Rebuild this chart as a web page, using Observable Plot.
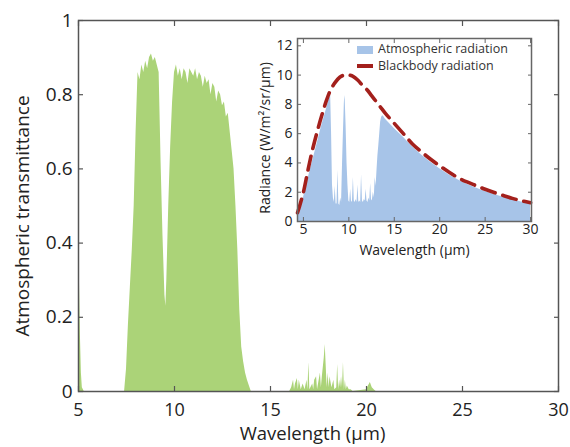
<!DOCTYPE html>
<html>
<head>
<meta charset="utf-8">
<script src="https://cdn.jsdelivr.net/npm/d3@7"></script>
<script src="https://cdn.jsdelivr.net/npm/@observablehq/plot@0.6"></script>
<style>
  html, body { margin: 0; padding: 0; background: #fff; }
  #wrap { position: relative; width: 570px; height: 447px; font-family: "Open Sans", sans-serif; }
  #wrap > .layer { position: absolute; }
  .leg { position: absolute; font-size: 12.5px; color: #333; line-height: 1; white-space: nowrap; }
</style>
</head>
<body>
<div id="wrap"></div>
<script>
// ---------- Main chart: atmospheric transmittance ----------
const transWl = [
  5.0, 5.05, 5.1, 5.15, 5.2, 5.3, 7.4,
  7.5, 7.6, 7.7, 7.8, 7.9, 8.0, 8.1, 8.2, 8.3, 8.4, 8.5, 8.6, 8.7, 8.8, 8.9, 9.0, 9.1, 9.2,
  9.3, 9.4, 9.5, 9.55, 9.6, 9.7, 9.8, 9.9, 10.0,
  10.1, 10.2, 10.3, 10.4, 10.5, 10.6, 10.7, 10.8, 10.9, 11.0, 11.1, 11.2, 11.3, 11.4, 11.5,
  11.6, 11.7, 11.8, 11.9, 12.0, 12.1, 12.2, 12.3, 12.4, 12.5, 12.6, 12.7, 12.8, 12.9, 13.0,
  13.1, 13.2, 13.3, 13.4, 13.5, 13.6, 13.7, 13.8, 13.9, 14.0, 16.0,
  16.1, 16.2, 16.25, 16.3, 16.4, 16.45, 16.5, 16.6, 16.7, 16.8, 16.9, 16.95, 17.0, 17.05,
  17.2, 17.25, 17.3, 17.4, 17.45, 17.6, 17.65, 17.7, 17.8, 17.85, 17.9, 17.95, 18.0, 18.05,
  18.1, 18.2, 18.3, 18.35, 18.45, 18.5, 18.55, 18.6, 18.65, 18.7, 18.75, 18.8, 18.85, 18.9,
  18.95, 19.0, 19.1, 19.2, 19.3, 20.0, 20.1, 20.2, 20.3, 20.4, 20.5, 30.0
];
const transVal = [
  0.42, 0.30, 0.15, 0.05, 0.01, 0, 0,
  0.06, 0.18, 0.28, 0.38, 0.50, 0.70, 0.86, 0.84, 0.88, 0.86, 0.89, 0.87, 0.90, 0.91, 0.89, 0.90, 0.88, 0.86,
  0.62, 0.42, 0.26, 0.23, 0.30, 0.50, 0.66, 0.78, 0.86,
  0.88, 0.85, 0.87, 0.84, 0.87, 0.86, 0.83, 0.87, 0.86, 0.85, 0.87, 0.84, 0.86, 0.85, 0.82,
  0.85, 0.83, 0.84, 0.80, 0.83, 0.82, 0.78, 0.81, 0.80, 0.77, 0.78, 0.74, 0.75, 0.70, 0.65,
  0.60, 0.50, 0.38, 0.22, 0.12, 0.08, 0.05, 0.03, 0.015, 0, 0,
  0.01, 0.03, 0.005, 0.02, 0.035, 0.005, 0.03, 0.005, 0.02, 0.005, 0.03, 0.005, 0.078, 0.005,
  0.02, 0.005, 0.03, 0.04, 0.005, 0.05, 0.01, 0.04, 0.09, 0.127, 0.07, 0.01, 0.05, 0.01,
  0.04, 0.01, 0.03, 0.005, 0.01, 0.073, 0.005, 0.03, 0.01, 0.04, 0.01, 0.078, 0.005, 0.03,
  0.005, 0.015, 0.005, 0.005, 0, 0.005, 0.015, 0.024, 0.01, 0.005, 0, 0
];
const mainXTicks = [5, 10, 15, 20, 25, 30];
const mainYTicks = [0, 0.2, 0.4, 0.6, 0.8, 1];
const mainYTickLabels = ["0", "0.2", "0.4", "0.6", "0.8", "1"];
const mainXLabel = "Wavelength (\u00b5m)";
const mainYLabel = "Atmospheric transmittance";

// ---------- Inset: radiance ----------
const bbWl = [4.35, 4.6, 5.0, 5.5, 6.0, 6.5, 7.0, 7.5, 8.0, 8.5, 9.0, 9.5, 10.0, 10.5, 11.0, 11.5, 12.0, 12.5, 13.0, 13.5, 14, 15, 16, 17, 18, 19, 20, 21, 22, 23, 24, 25, 26, 27, 28, 29, 30];
const bbRad = [0.6, 1.1, 2.0, 3.5, 4.9, 6.1, 7.2, 8.2, 9.0, 9.5, 9.85, 10.0, 10.0, 9.9, 9.65, 9.3, 9.0, 8.6, 8.2, 7.8, 7.4, 6.7, 6.0, 5.3, 4.75, 4.25, 3.8, 3.38, 3.0, 2.7, 2.45, 2.2, 1.98, 1.78, 1.58, 1.42, 1.28];
const atmWl = [
  4.35, 4.6, 5.0, 5.5, 6.0, 6.5, 7.0, 7.5, 7.8, 8.0,
  8.1, 8.2, 8.3, 8.4, 8.5, 8.6, 8.7, 8.8, 8.9, 9.0, 9.1, 9.2, 9.3, 9.4, 9.5, 9.55, 9.6, 9.7, 9.8, 9.9, 10.0,
  10.1, 10.2, 10.3, 10.4, 10.5, 10.6, 10.7, 10.8, 10.9, 11.0, 11.1, 11.2, 11.3, 11.4, 11.5,
  11.6, 11.7, 11.8, 11.9, 12.0, 12.1, 12.2, 12.3, 12.4, 12.5, 12.6, 12.7, 12.8, 12.9, 13.0,
  13.1, 13.2, 13.3, 13.4, 13.5, 13.6, 13.7, 13.8, 14, 15, 16, 17, 18, 19, 20, 21, 22, 23, 24, 25, 26, 27, 28, 29, 30
];
const atmRad = [
  0.2, 0.7, 1.6, 2.9, 4.1, 5.3, 6.5, 7.6, 8.3, 8.6,
  6.0, 2.5, 1.6, 1.3, 2.4, 1.2, 1.2, 3.5, 1.2, 1.1, 1.6, 1.3, 3.8, 6.0, 8.0, 8.6, 8.3, 6.5, 4.0, 2.5, 1.4,
  1.3, 2.2, 1.3, 1.4, 3.0, 1.4, 1.3, 1.5, 1.3, 2.5, 1.3, 1.4, 1.3, 3.2, 1.4,
  1.3, 1.5, 1.4, 2.2, 1.4, 1.3, 1.6, 1.4, 2.6, 1.4, 1.5, 2.0, 1.6, 3.0, 2.4,
  3.5, 4.5, 5.2, 6.0, 6.8, 7.1, 7.2, 7.2, 7.0, 6.35, 5.75, 5.1, 4.55, 4.05, 3.6, 3.2, 2.85, 2.55, 2.28, 2.05, 1.85, 1.65, 1.48, 1.33, 1.2
];
const insetXTicks = [5, 10, 15, 20, 25, 30];
const insetYTicks = [0, 2, 4, 6, 8, 10, 12];
const insetXLabel = "Wavelength (\u00b5m)";
const insetYLabel = "Radiance (W/m\u00b2/sr/\u00b5m)";
const legendLabels = ["Atmospheric radiation", "Blackbody radiation"];

const GREEN = "#abd378";
const BLUE = "#a7c4e8";
const RED = "#a3201c";

const transData = transWl.map((wl, i) => ({wl, t: transVal[i]}));
const bbData = bbWl.map((wl, i) => ({wl, r: bbRad[i]}));
const atmData = atmWl.map((wl, i) => ({wl, r: atmRad[i]}));

const wrap = document.getElementById("wrap");

const main = Plot.plot({
  width: 570, height: 447,
  marginLeft: 78, marginRight: 12, marginTop: 20, marginBottom: 56,
  style: {fontFamily: "Open Sans", fontSize: "19px", color: "#222", background: "white"},
  x: {domain: [5, 30], label: null},
  y: {domain: [0, 1], label: null},
  marks: [
    Plot.areaY(transData, {x: "wl", y: "t", fill: GREEN, curve: "linear"}),
    Plot.frame({stroke: "#555", strokeWidth: 1.5}),
    Plot.axisX({ticks: mainXTicks, tickSize: -5, tickPadding: 17, fontSize: 18, stroke: "#555", strokeWidth: 1.2, fill: "#222"}),
    Plot.axisX({anchor: "top", ticks: mainXTicks, tickSize: -5, stroke: "#555", strokeWidth: 1.2, tickFormat: () => ""}),
    Plot.axisY({ticks: mainYTicks, tickSize: -5, tickPadding: 11, stroke: "#555", strokeWidth: 1.2, fill: "#222",
      tickFormat: d => mainYTickLabels[mainYTicks.indexOf(d)]}),
    Plot.axisY({anchor: "right", ticks: mainYTicks, tickSize: -5, stroke: "#555", strokeWidth: 1.2, tickFormat: () => ""}),
    Plot.text([mainXLabel], {frameAnchor: "bottom", textAnchor: "middle", lineAnchor: "middle", fontSize: 18.5, dy: 43, dx: -6, fill: "#222"}),
    Plot.text([mainYLabel], {frameAnchor: "left", textAnchor: "middle", lineAnchor: "middle", rotate: -90, dx: -56, dy: 10, fill: "#222"})
  ]
});
main.classList.add("layer");
main.style.left = "0px"; main.style.top = "0px";
wrap.appendChild(main);

const inset = Plot.plot({
  width: 295, height: 230,
  marginLeft: 47, marginRight: 14, marginTop: 8, marginBottom: 39,
  style: {fontFamily: "Open Sans", fontSize: "14px", color: "#222", background: "white"},
  x: {domain: [4.35, 30.1], label: null},
  y: {domain: [0, 12.5], label: null},
  marks: [
    Plot.areaY(atmData, {x: "wl", y: "r", fill: BLUE, curve: "linear"}),
    Plot.line(bbData, {x: "wl", y: "r", stroke: RED, strokeWidth: 3.6, strokeDasharray: "14,8", curve: "catmull-rom"}),
    Plot.frame({stroke: "#666", strokeWidth: 1.5}),
    Plot.axisX({ticks: insetXTicks, tickSize: -4, tickPadding: 7, stroke: "#666", fill: "#222"}),
    Plot.axisX({anchor: "top", ticks: insetXTicks, tickSize: -4, stroke: "#666", tickFormat: () => ""}),
    Plot.axisY({ticks: insetYTicks, tickSize: -4, tickPadding: 9, stroke: "#666", fill: "#222"}),
    Plot.axisY({anchor: "right", ticks: insetYTicks, tickSize: -4, stroke: "#666", tickFormat: () => ""}),
    Plot.text([insetXLabel], {frameAnchor: "bottom", textAnchor: "middle", lineAnchor: "middle", dy: 29, fill: "#222"}),
    Plot.text([insetYLabel], {frameAnchor: "left", textAnchor: "middle", lineAnchor: "middle", rotate: -90, dx: -32, dy: 8, fill: "#222"})
  ]
});
inset.classList.add("layer");
inset.style.left = "250px"; inset.style.top = "30px";
wrap.appendChild(inset);

// legend
function legItem(label, swatchCss, top) {
  const sw = document.createElement("div");
  sw.style.cssText = "position:absolute;left:357px;width:16px;" + swatchCss;
  wrap.appendChild(sw);
  const t = document.createElement("div");
  t.className = "leg";
  t.textContent = label;
  t.style.left = "378px";
  t.style.top = top + "px";
  wrap.appendChild(t);
}
legItem(legendLabels[0], "top:45.5px;height:8px;background:" + BLUE + ";", 43.25);
legItem(legendLabels[1], "top:64px;height:4px;background:" + RED + ";", 60);
</script>
</body>
</html>
